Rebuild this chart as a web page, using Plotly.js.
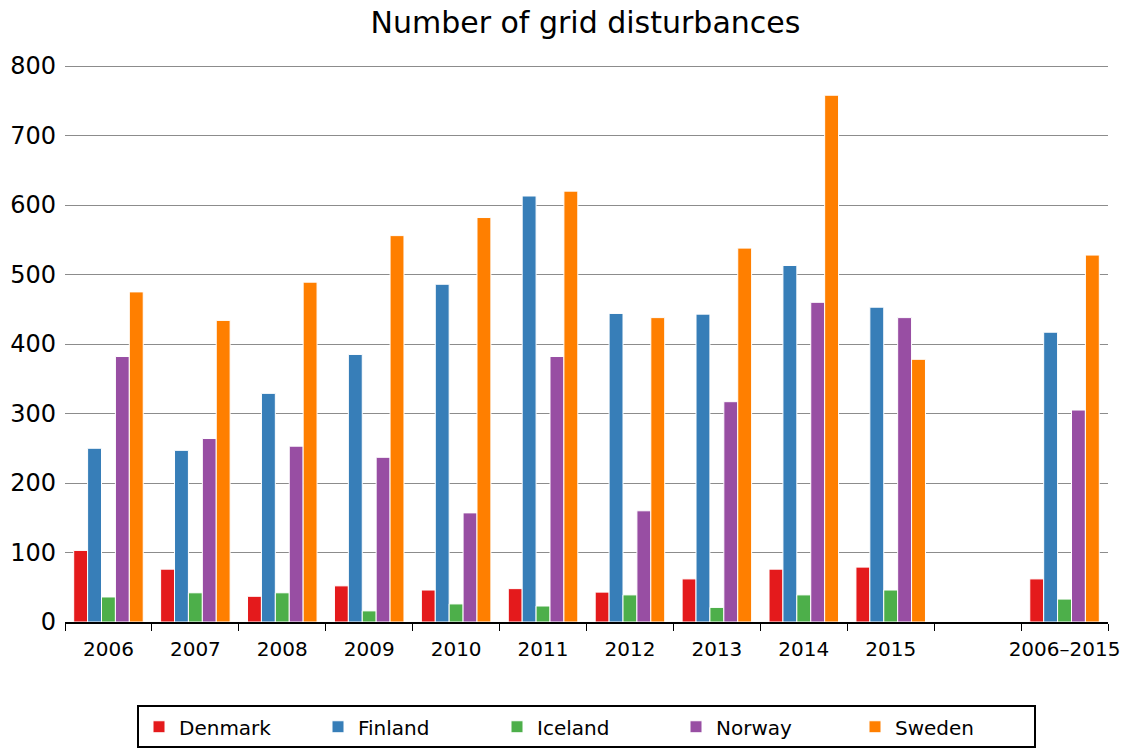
<!DOCTYPE html>
<html>
<head>
<meta charset="utf-8">
<script src="https://cdn.plot.ly/plotly-3.0.1.min.js"></script>
<style>html,body{margin:0;padding:0;background:#fff;}#chart{width:1128px;height:749px;}</style>
</head>
<body>
<div id="chart"></div>
<script>
const categories = ['2006','2007','2008','2009','2010','2011','2012','2013','2014','2015','2006–2015'];
const axisCategories = ['2006','2007','2008','2009','2010','2011','2012','2013','2014','2015',' ','2006–2015'];
const denmark = [103, 76, 37, 52, 46, 48, 43, 62, 76, 79, 62];
const finland = [250, 247, 329, 385, 486, 613, 444, 443, 513, 453, 417];
const iceland = [36, 42, 42, 16, 26, 23, 39, 21, 39, 46, 33];
const norway  = [382, 264, 253, 237, 157, 382, 160, 317, 460, 438, 305];
const sweden  = [475, 434, 489, 556, 582, 620, 438, 538, 758, 378, 528];
const seriesNames = ['Denmark','Finland','Iceland','Norway','Sweden'];
const seriesColors = ['#e41a1c','#377eb8','#4daf4a','#984ea3','#ff7f00'];
const seriesValues = [denmark, finland, iceland, norway, sweden];

const font = 'DejaVu Sans, sans-serif';
const traces = seriesValues.map((vals, i) => ({
  type: 'bar',
  name: seriesNames[i],
  x: categories,
  y: vals,
  marker: {color: seriesColors[i], line: {color: '#ffffff', width: 1}},
  hoverinfo: 'x+y+name'
}));

const layout = {
  width: 1128, height: 749,
  margin: {l: 65, r: 20, t: 65, b: 127},
  paper_bgcolor: '#fff', plot_bgcolor: '#fff',
  font: {family: font, color: '#000'},
  title: {text: 'Number of grid disturbances', font: {family: font, size: 30, color: '#000'}, x: 0.519, xanchor: 'center', y: 0.984, yanchor: 'top'},
  barmode: 'group', bargap: 0.2, bargroupgap: 0,
  xaxis: {
    type: 'category', categoryorder: 'array', categoryarray: axisCategories,
    tickson: 'boundaries', ticks: 'outside', ticklen: 7, tickwidth: 1, tickcolor: '#000',
    showline: true, linecolor: '#000', linewidth: 1.5, tickangle: 0, automargin: false,
    ticklabelstandoff: 8,
    showgrid: false, tickfont: {family: font, size: 20, color: '#000'},
    range: [-0.5, 11.5], fixedrange: true
  },
  yaxis: {
    range: [0, 801.5], dtick: 100, tick0: 0, automargin: false,
    showgrid: true, gridcolor: '#8c8c8c', gridwidth: 1,
    zeroline: false, showline: false, ticks: '', ticklabelstandoff: 8,
    tickfont: {family: font, size: 24, color: '#000'}
  },
  showlegend: true,
  legend: {
    orientation: 'h', x: 0.5, xanchor: 'center', xref: 'paper',
    yref: 'container', y: 0.001, yanchor: 'bottom',
    bordercolor: '#000', borderwidth: 2, bgcolor: '#fff',
    font: {family: font, size: 20, color: '#000'},
    entrywidth: 134, entrywidthmode: 'pixels', traceorder: 'normal'
  }
};

Plotly.newPlot('chart', traces, layout, {displayModeBar: false, staticPlot: true});
</script>
</body>
</html>
